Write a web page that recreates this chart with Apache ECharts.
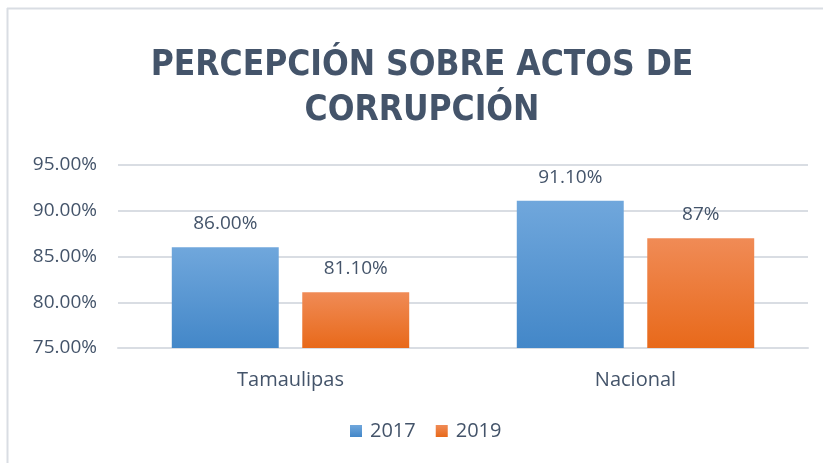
<!DOCTYPE html>
<html><head><meta charset="utf-8">
<script src="https://cdn.jsdelivr.net/npm/echarts@6/dist/echarts.min.js"></script>
<style>html,body{margin:0;padding:0;background:#fff}#c{width:823px;height:463px}</style>
</head><body><div id="c"></div>
<script>
const categories = ['Tamaulipas', 'Nacional'];
const series2017 = [86.0, 91.1];
const series2019 = [81.1, 87.0];
const labels2017 = ['86.00%', '91.10%'];
const labels2019 = ['81.10%', '87%'];
const yMin = 75, yMax = 95, yStep = 5;

const txt = '#44546A';
const font = 'Open Sans';
const chart = echarts.init(document.getElementById('c'), null, {renderer: 'canvas'});
function grad(top, bottom) {
  return new echarts.graphic.LinearGradient(0, 0, 0, 1, [{offset: 0, color: top}, {offset: 1, color: bottom}]);
}
chart.setOption({
  animation: false,
  backgroundColor: '#fff',
  graphic: [
    {type: 'line', shape: {x1: 7.5, y1: 8, x2: 7.5, y2: 463}, style: {stroke: '#D9DDE3', lineWidth: 2}},
    {type: 'line', shape: {x1: 7, y1: 8.5, x2: 823, y2: 8.5}, style: {stroke: '#D9DDE3', lineWidth: 2}}
  ],
  title: {
    text: 'PERCEPCIÓN SOBRE ACTOS DE\nCORRUPCIÓN',
    left: 417, textAlign: 'center', top: 38,
    textStyle: {fontFamily: 'DejaVu Sans Condensed', fontWeight: 'bold', fontSize: 35, color: txt, lineHeight: 45}
  },
  legend: {
    data: ['2017', '2019'], bottom: 17, left: 345,
    itemWidth: 12, itemHeight: 12, itemGap: 20, icon: 'rect',
    textStyle: {fontFamily: font, fontSize: 20, color: txt, padding: [0, 0, 0, 3]}
  },
  grid: {left: 118, right: 15, top: 165, bottom: 115},
  xAxis: {
    type: 'category', data: categories,
    axisLine: {show: true, lineStyle: {color: '#D9DDE3', width: 2}},
    axisTick: {show: false},
    axisLabel: {fontFamily: font, fontSize: 20, color: txt, margin: 22}
  },
  yAxis: {
    type: 'value', min: yMin, max: yMax, interval: yStep,
    axisLine: {show: false}, axisTick: {show: false},
    splitLine: {lineStyle: {color: '#D9DDE3', width: 2}},
    axisLabel: {fontFamily: font, fontSize: 19, color: txt, margin: 21,
      formatter: v => v.toFixed(2) + '%'}
  },
  series: [
    {name: '2017', type: 'bar', data: series2017, barWidth: '31%', barGap: '22%',
     itemStyle: {color: grad('#70A7DC', '#4387C8')},
     label: {show: true, position: 'top', distance: 14, fontFamily: font, fontSize: 19, color: txt,
       formatter: p => labels2017[p.dataIndex]}},
    {name: '2019', type: 'bar', data: series2019, barWidth: '31%',
     itemStyle: {color: grad('#F08B56', '#E8691A')},
     label: {show: true, position: 'top', distance: 14, fontFamily: font, fontSize: 19, color: txt,
       formatter: p => labels2019[p.dataIndex]}}
  ]
});
</script></body></html>
